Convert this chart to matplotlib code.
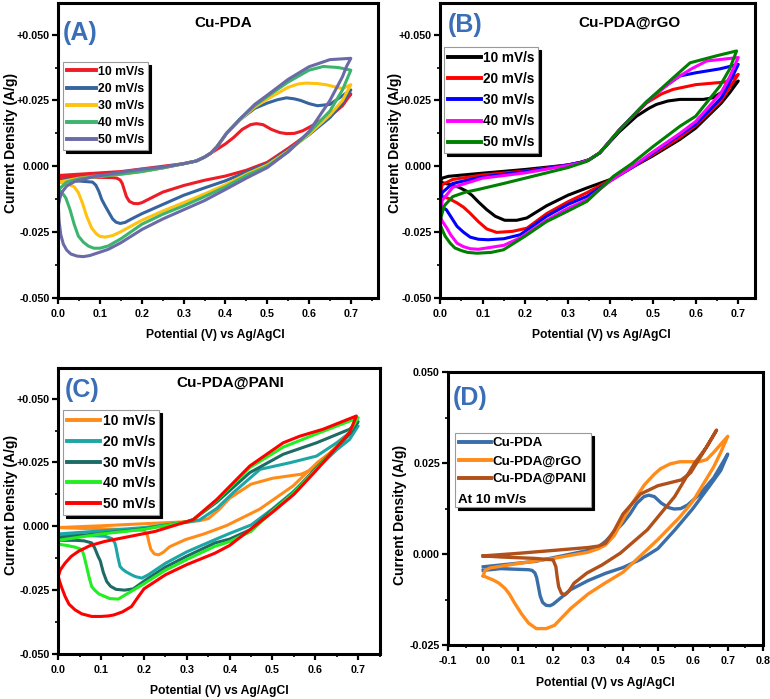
import matplotlib
matplotlib.use("Agg")
import matplotlib.pyplot as plt
from matplotlib.ticker import MultipleLocator, FixedFormatter, FixedLocator
from matplotlib.lines import Line2D

plt.rcParams['font.family'] = ['Liberation Sans', 'DejaVu Sans']
plt.rcParams['font.weight'] = 'bold'
plt.rcParams['axes.labelweight'] = 'bold'

# ---- (A) Cu-PDA : potential (V) and current density (A/g), forward then reverse sweep
a10_v = [0, 0.05, 0.1, 0.15, 0.2, 0.25, 0.3, 0.33, 0.35, 0.365, 0.38, 0.4, 0.42, 0.44, 0.46, 0.474, 0.49, 0.51, 0.53, 0.546, 0.565, 0.585, 0.62, 0.66, 0.7,
         0.68, 0.65, 0.6, 0.55, 0.5, 0.45, 0.4, 0.35, 0.3, 0.25, 0.22, 0.2, 0.191, 0.18, 0.17, 0.163, 0.158, 0.153, 0.148, 0.14, 0.13, 0.1, 0.05, 0]
a10_j = [-0.0035, -0.003, -0.0025, -0.002, -0.001, 0.0, 0.001, 0.002, 0.0035, 0.005, 0.0065, 0.0085, 0.011, 0.014, 0.0158, 0.0162, 0.0158, 0.014, 0.0128, 0.0124, 0.0125, 0.0135, 0.0165, 0.021, 0.0275,
         0.023, 0.019, 0.0125, 0.0068, 0.0015, -0.0015, -0.0037, -0.0053, -0.0073, -0.0098, -0.0122, -0.0138, -0.0142, -0.0141, -0.0133, -0.0115, -0.009, -0.0065, -0.0052, -0.0045, -0.0043, -0.0042, -0.004, -0.0045]

a20_v = [0, 0.05, 0.1, 0.15, 0.2, 0.25, 0.3, 0.33, 0.35, 0.365, 0.38, 0.403, 0.435, 0.47, 0.5, 0.525, 0.546, 0.565, 0.58, 0.6, 0.62, 0.65, 0.7,
         0.68, 0.65, 0.6, 0.55, 0.5, 0.45, 0.4, 0.35, 0.3, 0.25, 0.2, 0.175, 0.16, 0.148, 0.138, 0.13, 0.122, 0.112, 0.104, 0.097, 0.09, 0.082, 0.05, 0]
a20_j = [-0.0055, -0.0045, -0.0035, -0.0028, -0.0018, -0.0006, 0.001, 0.002, 0.0035, 0.005, 0.0075, 0.0126, 0.0177, 0.022, 0.024, 0.0253, 0.026, 0.0256, 0.025, 0.0238, 0.023, 0.0235, 0.029,
         0.024, 0.0185, 0.012, 0.0062, 0.001, -0.0022, -0.0055, -0.0082, -0.011, -0.0145, -0.018, -0.020, -0.0213, -0.0217, -0.0212, -0.020, -0.0178, -0.015, -0.0126, -0.0095, -0.0072, -0.006, -0.0056, -0.0055]

a30_v = [0, 0.05, 0.1, 0.15, 0.2, 0.25, 0.3, 0.33, 0.35, 0.365, 0.38, 0.403, 0.435, 0.47, 0.5, 0.55, 0.575, 0.594, 0.62, 0.64, 0.68, 0.7,
         0.68, 0.65, 0.6, 0.55, 0.5, 0.45, 0.4, 0.35, 0.3, 0.25, 0.2, 0.15, 0.13, 0.112, 0.1, 0.092, 0.08, 0.068, 0.058, 0.048, 0.038, 0.025, 0]
a30_j = [-0.006, -0.0045, -0.0038, -0.003, -0.002, -0.0006, 0.001, 0.002, 0.0035, 0.005, 0.0075, 0.0126, 0.0177, 0.0225, 0.0255, 0.030, 0.0313, 0.0316, 0.0314, 0.031, 0.0295, 0.031,
         0.025, 0.0195, 0.0122, 0.0058, 0.0005, -0.003, -0.007, -0.0105, -0.0138, -0.017, -0.0205, -0.0248, -0.0263, -0.0269, -0.0266, -0.0258, -0.0235, -0.019, -0.014, -0.010, -0.0078, -0.0068, -0.006]

a40_v = [0, 0.02, 0.05, 0.1, 0.15, 0.2, 0.25, 0.3, 0.33, 0.35, 0.365, 0.38, 0.403, 0.435, 0.47, 0.5, 0.55, 0.6, 0.634, 0.67, 0.7,
         0.68, 0.65, 0.6, 0.55, 0.5, 0.45, 0.4, 0.35, 0.3, 0.25, 0.2, 0.15, 0.12, 0.1, 0.085, 0.072, 0.06, 0.048, 0.038, 0.028, 0.018, 0.008, 0]
a40_j = [-0.009, -0.006, -0.0047, -0.0038, -0.003, -0.002, -0.0006, 0.001, 0.002, 0.0035, 0.005, 0.0075, 0.0126, 0.018, 0.023, 0.0265, 0.032, 0.0365, 0.0379, 0.0375, 0.0365,
         0.029, 0.021, 0.0128, 0.0055, 0.0, -0.0035, -0.0078, -0.0115, -0.015, -0.0182, -0.022, -0.0275, -0.0302, -0.0311, -0.0311, -0.0303, -0.0288, -0.0265, -0.022, -0.0164, -0.012, -0.0098, -0.009]

a50_v = [0, 0.004, 0.008, 0.02, 0.04, 0.088, 0.19, 0.25, 0.3, 0.33, 0.35, 0.365, 0.38, 0.403, 0.435, 0.47, 0.5, 0.55, 0.6, 0.65, 0.7,
         0.69, 0.68, 0.65, 0.6, 0.55, 0.5, 0.45, 0.4, 0.35, 0.3, 0.25, 0.2, 0.15, 0.12, 0.096, 0.075, 0.06, 0.045, 0.03, 0.02, 0.012, 0.006, 0.002, 0]
a50_j = [-0.015, -0.012, -0.010, -0.0075, -0.0057, -0.0038, -0.0013, -0.0003, 0.001, 0.002, 0.0035, 0.005, 0.0075, 0.0126, 0.018, 0.0235, 0.027, 0.033, 0.0378, 0.0405, 0.041,
         0.038, 0.034, 0.025, 0.0132, 0.0055, -0.0005, -0.0045, -0.0088, -0.013, -0.0165, -0.020, -0.024, -0.029, -0.0315, -0.0328, -0.0339, -0.0343, -0.0341, -0.0333, -0.0318, -0.0295, -0.026, -0.021, -0.015]

# ---- (B) Cu-PDA@rGO
b10_v = [0, 0.005, 0.02, 0.1, 0.2, 0.3, 0.33, 0.35, 0.375, 0.42, 0.461, 0.49, 0.508, 0.535, 0.563, 0.618, 0.64, 0.66, 0.7,
         0.68, 0.66, 0.6, 0.563, 0.5, 0.45, 0.4, 0.345, 0.3, 0.25, 0.204, 0.18, 0.152, 0.13, 0.11, 0.09, 0.075, 0.063, 0.045, 0.03, 0]
b10_j = [-0.006, -0.0045, -0.0038, -0.0026, -0.0012, 0.0005, 0.0015, 0.0025, 0.0051, 0.013, 0.019, 0.022, 0.0235, 0.0248, 0.0254, 0.0254, 0.026, 0.028, 0.0324,
         0.028, 0.024, 0.0145, 0.0102, 0.004, -0.0005, -0.005, -0.0082, -0.011, -0.015, -0.0196, -0.0205, -0.0205, -0.019, -0.0165, -0.0135, -0.011, -0.0095, -0.008, -0.0072, -0.006]

b20_v = [0, 0.005, 0.03, 0.1, 0.2, 0.3, 0.33, 0.35, 0.375, 0.422, 0.485, 0.52, 0.547, 0.6, 0.649, 0.67, 0.7,
         0.68, 0.66, 0.6, 0.563, 0.5, 0.45, 0.4, 0.345, 0.3, 0.25, 0.204, 0.17, 0.133, 0.11, 0.09, 0.07, 0.055, 0.04, 0.02, 0.009, 0]
b20_j = [-0.012, -0.007, -0.005, -0.0033, -0.0018, 0.0005, 0.0015, 0.0025, 0.0051, 0.014, 0.0241, 0.0275, 0.0292, 0.031, 0.0317, 0.032, 0.0349,
         0.030, 0.025, 0.0155, 0.011, 0.0045, -0.0005, -0.0052, -0.010, -0.0135, -0.018, -0.0235, -0.0247, -0.0251, -0.0238, -0.021, -0.0177, -0.0155, -0.0139, -0.0122, -0.0116, -0.012]

b30_v = [0, 0.005, 0.03, 0.1, 0.2, 0.3, 0.33, 0.35, 0.375, 0.422, 0.485, 0.525, 0.563, 0.6, 0.657, 0.7,
         0.68, 0.66, 0.6, 0.563, 0.5, 0.45, 0.4, 0.345, 0.3, 0.25, 0.188, 0.15, 0.113, 0.09, 0.071, 0.055, 0.04, 0.025, 0.015, 0]
b30_j = [-0.015, -0.010, -0.0065, -0.004, -0.002, 0.0005, 0.0015, 0.0025, 0.0051, 0.014, 0.0245, 0.030, 0.0343, 0.0355, 0.037, 0.0387,
         0.032, 0.026, 0.016, 0.012, 0.005, -0.0005, -0.0055, -0.0114, -0.0145, -0.019, -0.026, -0.0275, -0.0279, -0.0277, -0.0269, -0.025, -0.0228, -0.019, -0.0165, -0.015]

b40_v = [0, 0.005, 0.03, 0.1, 0.2, 0.3, 0.33, 0.35, 0.375, 0.422, 0.485, 0.55, 0.59, 0.626, 0.7,
         0.68, 0.66, 0.6, 0.563, 0.5, 0.45, 0.4, 0.345, 0.3, 0.25, 0.19, 0.15, 0.11, 0.09, 0.071, 0.055, 0.04, 0.025, 0.016, 0.006, 0]
b40_j = [-0.019, -0.013, -0.008, -0.0045, -0.0025, 0.0003, 0.0013, 0.0025, 0.0051, 0.014, 0.0245, 0.033, 0.037, 0.040, 0.0413,
         0.034, 0.028, 0.017, 0.0125, 0.0055, -0.0003, -0.0055, -0.0127, -0.016, -0.0205, -0.027, -0.030, -0.031, -0.0315, -0.0313, -0.0305, -0.0292, -0.026, -0.0234, -0.021, -0.019]

b50_v = [0, 0.003, 0.01, 0.03, 0.06, 0.087, 0.15, 0.2, 0.3, 0.345, 0.375, 0.422, 0.485, 0.55, 0.587, 0.65, 0.696,
         0.68, 0.657, 0.6, 0.563, 0.5, 0.45, 0.407, 0.345, 0.3, 0.25, 0.2, 0.149, 0.12, 0.087, 0.065, 0.05, 0.035, 0.024, 0.012, 0.005, 0]
b50_j = [-0.022, -0.019, -0.015, -0.0115, -0.0098, -0.0089, -0.0065, -0.0045, -0.0005, 0.0019, 0.0051, 0.014, 0.0245, 0.034, 0.0393, 0.042, 0.0438,
         0.037, 0.0305, 0.019, 0.0152, 0.0075, 0.001, -0.0038, -0.0133, -0.017, -0.021, -0.0265, -0.0317, -0.0327, -0.033, -0.0327, -0.032, -0.031, -0.0292, -0.0265, -0.024, -0.022]

# ---- (C) Cu-PDA@PANI
c10_v = [0, 0.1, 0.2, 0.3, 0.33, 0.35, 0.375, 0.4, 0.45, 0.5, 0.567, 0.594, 0.63, 0.668,
         0.64, 0.605, 0.548, 0.47, 0.393, 0.34, 0.297, 0.26, 0.245, 0.234, 0.224, 0.216, 0.212, 0.208, 0.2, 0.15, 0.1, 0.05, 0]
c10_j = [-0.0005, 0.0002, 0.001, 0.0018, 0.0022, 0.003, 0.0065, 0.011, 0.0165, 0.0188, 0.0204, 0.0224, 0.028, 0.0341,
         0.0295, 0.025, 0.0158, 0.0067, 0.0003, -0.003, -0.0052, -0.008, -0.0102, -0.0112, -0.0108, -0.009, -0.0065, -0.0035, -0.0016, -0.0012, -0.001, -0.0008, -0.0005]

c20_v = [0, 0.1, 0.2, 0.3, 0.33, 0.37, 0.408, 0.471, 0.541, 0.603, 0.65, 0.7,
         0.68, 0.65, 0.6, 0.548, 0.5, 0.45, 0.4, 0.366, 0.3, 0.25, 0.21, 0.195, 0.18, 0.171, 0.158, 0.15, 0.144, 0.139, 0.135, 0.132, 0.125, 0.109, 0.05, 0]
c20_j = [-0.003, -0.0018, -0.0005, 0.0015, 0.0025, 0.007, 0.0131, 0.0223, 0.0249, 0.0275, 0.0327, 0.0393,
         0.034, 0.030, 0.022, 0.0135, 0.0068, 0.0005, -0.0028, -0.0052, -0.010, -0.0145, -0.019, -0.0203, -0.0197, -0.019, -0.0178, -0.0168, -0.0157, -0.012, -0.0085, -0.0065, -0.0048, -0.0039, -0.0035, -0.0035]

c30_v = [0, 0.1, 0.2, 0.3, 0.315, 0.37, 0.447, 0.525, 0.603, 0.68, 0.7,
         0.68, 0.65, 0.6, 0.548, 0.5, 0.45, 0.4, 0.366, 0.3, 0.25, 0.2, 0.175, 0.155, 0.135, 0.122, 0.113, 0.105, 0.098, 0.093, 0.085, 0.078, 0.06, 0.04, 0]
c30_j = [-0.0045, -0.0028, -0.001, 0.0018, 0.0026, 0.0095, 0.021, 0.0282, 0.0327, 0.038, 0.041,
         0.036, 0.031, 0.0225, 0.013, 0.0065, -0.0012, -0.005, -0.0065, -0.0117, -0.016, -0.0215, -0.0245, -0.025, -0.0247, -0.0235, -0.0216, -0.018, -0.0135, -0.0118, -0.0085, -0.0065, -0.0057, -0.0055, -0.0055]

c40_v = [0, 0.1, 0.2, 0.3, 0.315, 0.37, 0.447, 0.525, 0.6, 0.7,
         0.68, 0.65, 0.6, 0.548, 0.5, 0.45, 0.4, 0.366, 0.3, 0.25, 0.2, 0.14, 0.12, 0.109, 0.095, 0.085, 0.078, 0.072, 0.066, 0.06, 0.055, 0.04, 0.02, 0]
c40_j = [-0.0055, -0.003, -0.0012, 0.0018, 0.0026, 0.0102, 0.023, 0.031, 0.036, 0.0425,
         0.037, 0.031, 0.022, 0.0128, 0.006, -0.002, -0.006, -0.0078, -0.013, -0.0172, -0.0225, -0.0285, -0.0283, -0.0275, -0.0265, -0.025, -0.0236, -0.020, -0.0157, -0.0115, -0.0091, -0.0082, -0.0075, -0.007]

c50_v = [0, 0.005, 0.016, 0.03, 0.047, 0.075, 0.109, 0.226, 0.315, 0.37, 0.447, 0.525, 0.564, 0.618, 0.696,
         0.68, 0.65, 0.6, 0.55, 0.5, 0.45, 0.4, 0.366, 0.3, 0.25, 0.2, 0.185, 0.171, 0.15, 0.13, 0.117, 0.1, 0.078, 0.055, 0.039, 0.025, 0.016, 0.008, 0.003, 0]
c50_j = [-0.0196, -0.017, -0.0144, -0.0118, -0.0098, -0.0075, -0.0059, -0.002, 0.0026, 0.0105, 0.0236, 0.0327, 0.0353, 0.038, 0.0432,
         0.0367, 0.031, 0.0215, 0.0125, 0.0055, -0.001, -0.0075, -0.0105, -0.015, -0.019, -0.0245, -0.028, -0.0314, -0.0335, -0.0347, -0.0351, -0.0353, -0.0353, -0.0343, -0.0327, -0.0305, -0.0275, -0.024, -0.0215, -0.0196]

rate_labels = ['10 mV/s', '20 mV/s', '30 mV/s', '40 mV/s', '50 mV/s']
material_labels = ['Cu-PDA', 'Cu-PDA@rGO', 'Cu-PDA@PANI']

colors_a = ['#ee1c25', '#36649e', '#ffc20e', '#3cb46e', '#6b6aa8']
colors_b = ['#000000', '#ff0000', '#0000ff', '#ff00ff', '#008000']
colors_c = ['#ff8c1a', '#1ca6a6', '#1e6b66', '#22ee22', '#ff0000']
colors_d = ['#3a6ea8', '#ff8c1a', '#b0501a']

LETTER_COLOR = '#3a6fb7'


def style_axes(ax, xlim, ylim, yticks, yticklabels, xticks):
    ax.set_xlim(*xlim)
    ax.set_ylim(*ylim)
    ax.yaxis.set_major_locator(FixedLocator(yticks))
    ax.yaxis.set_major_formatter(FixedFormatter(yticklabels))
    ax.yaxis.set_minor_locator(MultipleLocator(0.0125))
    ax.xaxis.set_major_locator(FixedLocator(xticks))
    ax.xaxis.set_major_formatter(FixedFormatter(['%.1f' % t for t in xticks]))
    ax.xaxis.set_minor_locator(MultipleLocator(0.05))
    for s in ax.spines.values():
        s.set_linewidth(2.2)
    ax.tick_params(which='major', direction='out', length=4, width=1.6, labelsize=7.7, pad=2)
    ax.tick_params(which='minor', direction='out', length=2.5, width=1.2)
    ax.tick_params(axis='x', which='major', pad=4)
    ax.set_xlabel('Potential (V) vs Ag/AgCl', fontsize=8.7)
    ax.set_ylabel('Current Density (A/g)', fontsize=10)


def add_legend(ax, anchor, fontsize, spacing, handles=None, labels=None):
    if handles is None:
        handles, labels = ax.get_legend_handles_labels()
    leg = ax.legend(handles, labels, loc='upper left', bbox_to_anchor=anchor, borderaxespad=0, fontsize=fontsize,
                    handlelength=2.4, handletextpad=0.15, labelspacing=spacing, borderpad=0.3,
                    fancybox=False, framealpha=1, edgecolor='#9a9a9a',
                    shadow={'color': 'black', 'alpha': 1})
    leg.get_frame().set_linewidth(0.8)
    for line in leg.get_lines():
        line.set_linewidth(2.8)
    return leg


fig = plt.figure(figsize=(7.7, 6.99), dpi=100)

pm_ticks = [-0.05, -0.025, 0.0, 0.025, 0.05]
pm_labels = ['-0.050', '-0.025', '0.000', '+0.025', '+0.050']
x07 = [0, 0.1, 0.2, 0.3, 0.4, 0.5, 0.6, 0.7]

# (A)
axA = fig.add_axes([0.0757, 0.5737, 0.4152, 0.422])
for v, j, c, lab in zip([a10_v, a20_v, a30_v, a40_v, a50_v], [a10_j, a20_j, a30_j, a40_j, a50_j], colors_a, rate_labels):
    axA.plot(v, j, color=c, lw=2.2, label=lab, solid_joinstyle='round')
style_axes(axA, (0, 0.765), (-0.05, 0.062), pm_ticks, pm_labels, x07)
add_legend(axA, (0.0147, 0.80), 8.8, 0.42)
axA.text(0.0147, 0.90, '(A)', transform=axA.transAxes, ha='left', va='center', fontsize=18, color=LETTER_COLOR)
axA.text(0.515, 0.932, 'Cu-PDA', transform=axA.transAxes, ha='center', va='center', fontsize=11)
axA.yaxis.set_label_coords(-0.126, 0.525)
axA.xaxis.set_label_coords(0.49, -0.105)

# (B)
axB = fig.add_axes([0.5714, 0.5737, 0.409, 0.422])
for v, j, c, lab in zip([b10_v, b20_v, b30_v, b40_v, b50_v], [b10_j, b20_j, b30_j, b40_j, b50_j], colors_b, rate_labels):
    axB.plot(v, j, color=c, lw=2.2, label=lab, solid_joinstyle='round')
style_axes(axB, (0, 0.739), (-0.05, 0.062), pm_ticks, pm_labels, x07)
add_legend(axB, (0.0127, 0.851), 9.8, 0.52)
axB.text(0.025, 0.925, '(B)', transform=axB.transAxes, ha='left', va='center', fontsize=18, color=LETTER_COLOR)
axB.text(0.603, 0.932, 'Cu-PDA@rGO', transform=axB.transAxes, ha='center', va='center', fontsize=11)
axB.yaxis.set_label_coords(-0.121, 0.525)
axB.xaxis.set_label_coords(0.514, -0.105)

# (C)
axC = fig.add_axes([0.0757, 0.0644, 0.4178, 0.4092])
for v, j, c, lab in zip([c10_v, c20_v, c30_v, c40_v, c50_v], [c10_j, c20_j, c30_j, c40_j, c50_j], colors_c, rate_labels):
    axC.plot(v, j, color=c, lw=2.2, label=lab, solid_joinstyle='round')
style_axes(axC, (0, 0.751), (-0.05, 0.062), pm_ticks, pm_labels, x07)
add_legend(axC, (0.0146, 0.853), 10, 0.48)
axC.text(0.021, 0.923, '(C)', transform=axC.transAxes, ha='left', va='center', fontsize=18, color=LETTER_COLOR)
axC.text(0.534, 0.948, 'Cu-PDA@PANI', transform=axC.transAxes, ha='center', va='center', fontsize=11)
axC.yaxis.set_label_coords(-0.125, 0.521)
axC.xaxis.set_label_coords(0.5, -0.108)

# (D) comparison at 10 mV/s
axD = fig.add_axes([0.5822, 0.0773, 0.4083, 0.3901])
for v, j, c, lab in zip([a10_v, b10_v, c10_v], [a10_j, b10_j, c10_j], colors_d, material_labels):
    axD.plot(v, j, color=c, lw=2.4, label=lab, solid_joinstyle='round')
style_axes(axD, (-0.1, 0.8), (-0.025, 0.05), [-0.025, 0.0, 0.025, 0.05],
           ['-0.025', '0.000', '0.025', '0.050'], [-0.1, 0, 0.1, 0.2, 0.3, 0.4, 0.5, 0.6, 0.7, 0.8])
handles, labels = axD.get_legend_handles_labels()
handles.append(Line2D([], [], color='none'))
labels.append(' ')
add_legend(axD, (0.021, 0.777), 9.6, 0.42, handles, labels)
axD.text(0.03, 0.532, 'At 10 mV/s', transform=axD.transAxes, ha='left', va='center', fontsize=9.6, zorder=10)
axD.text(0.015, 0.906, '(D)', transform=axD.transAxes, ha='left', va='center', fontsize=18, color=LETTER_COLOR)
axD.yaxis.set_label_coords(-0.131, 0.477)
axD.xaxis.set_label_coords(0.50, -0.117)

fig.savefig('out.png', dpi=100)
